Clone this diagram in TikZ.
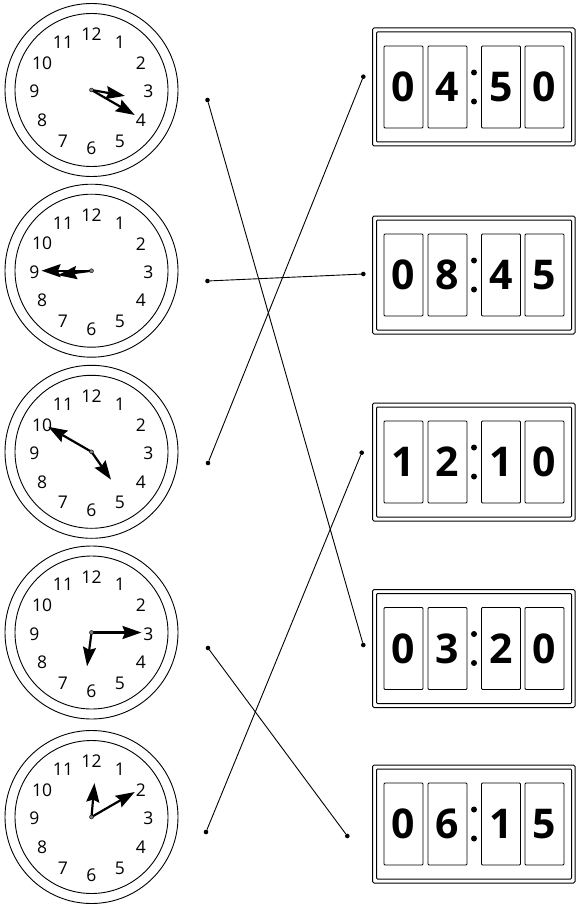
\documentclass[tikz,border=0pt]{standalone}
\usepackage{fontspec}
\setsansfont{Open Sans}
\usetikzlibrary{arrows.meta}
\tikzset{
  hand/.style={line width=2.2pt, -{Stealth[length=19pt,width=13pt,inset=2.5pt]}},
  pin/.style={circle, fill, inner sep=0pt, minimum size=4.6pt},
  hour/.style={font=\sffamily\fontsize{17.5}{17.5}\selectfont},
  cell/.style={draw, rounded corners=1pt, line width=0.9pt, minimum width=39pt,
    minimum height=82pt, font=\sffamily\bfseries\fontsize{41}{41}\selectfont},
}
\begin{document}
\begin{tikzpicture}[x=1pt,y=1pt]
  \useasboundingbox (0,0) rectangle (576,-904);
  % clocks: name / centre y / hour hand angle / minute hand angle
  \foreach \c/\y/\ha/\ma in {c1/90/-10/-30, c2/270.7/-172.5/-180,
      c3/451.8/-55/150, c4/632.5/-97.5/0, c5/817/85/30} {
    \coordinate (\c) at (91.5,-\y);
    \draw[line width=0.9pt] (\c) circle (86.5) (\c) circle (76.5);
    \foreach \k in {1,...,12}
      \path ([yshift=-1.5pt]\c) ++(90-30*\k:57) node[hour] {\k};
    \draw[hand] (\c) -- ++(\ha:34);
    \draw[hand] (\c) -- ++(\ma:50);
    \node[circle, draw, fill=gray, inner sep=0pt, minimum size=4pt] at (\c) {};
  }
  % displays: name / top / four digits
  \foreach \t/\y/\a/\b/\e/\f in {s1/28/0/4/5/0, s2/216/0/8/4/5, s3/403/1/2/1/0,
      s4/589.5/0/3/2/0, s5/765/0/6/1/5} {
    \draw[line width=1pt, rounded corners=1.5pt] (372.5,-\y) rectangle (575,-\y-118);
    \draw[line width=1pt, rounded corners=1pt] (376.5,-\y-4) rectangle (571.5,-\y-114);
    \node[cell] (\t a) at (403.5,-\y-59) {\a};
    \node[cell] (\t b) at (447.5,-\y-59) {\b};
    \node[cell] (\t e) at (501,-\y-59) {\e};
    \node[cell] (\t f) at (544.5,-\y-59) {\f};
    \fill (474,-\y-44.5) circle (3) (474,-\y-73.5) circle (3);
  }
  % end points of the matching lines
  \node[pin] (d1) at (207.5,-100) {};
  \node[pin] (d2) at (207.5,-281) {};
  \node[pin] (d3) at (208,-463) {};
  \node[pin] (d4) at (208,-648) {};
  \node[pin] (d5) at (206,-832) {};
  \node[pin] (t1) at (363.3,-76.7) {};
  \node[pin] (t2) at (363.3,-274) {};
  \node[pin] (t3) at (361.7,-452.7) {};
  \node[pin] (t4) at (363.3,-645) {};
  \node[pin] (t5) at (347.3,-836) {};
  \begin{scope}[line width=0.9pt]
    \draw (d1) -- (t4);
    \draw (d2) -- (t2);
    \draw (d3) -- (t1);
    \draw (d4) -- (t5);
    \draw (d5) -- (t3);
  \end{scope}
\end{tikzpicture}
\end{document}
